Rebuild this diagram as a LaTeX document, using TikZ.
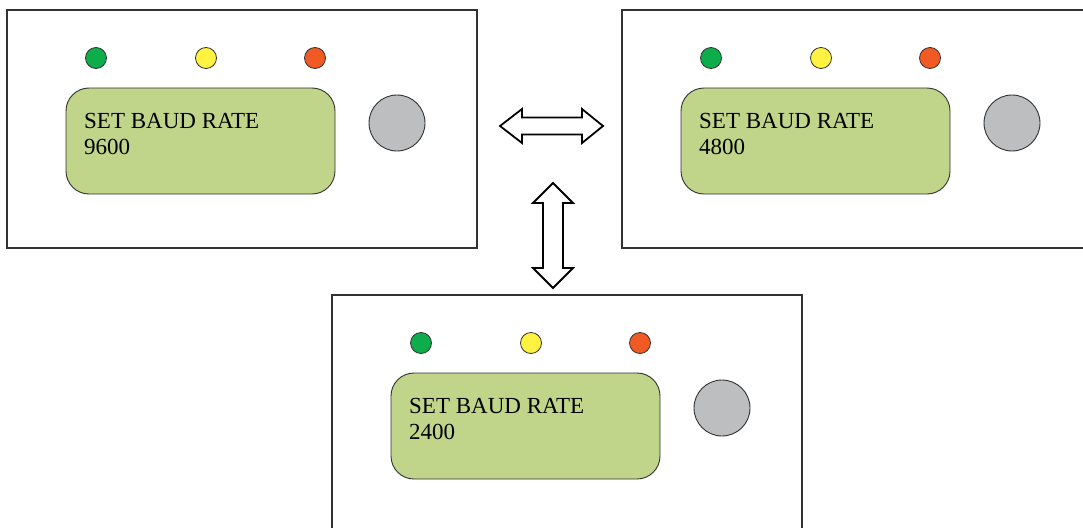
\documentclass[tikz,border=0pt]{standalone}
\usepackage{fontspec}
\setmainfont{Liberation Serif}
\definecolor{ledgreen}{RGB}{13,173,75}
\definecolor{ledyellow}{RGB}{255,242,64}
\definecolor{ledred}{RGB}{241,90,36}
\definecolor{lcdgreen}{RGB}{192,213,137}
\definecolor{knobgray}{RGB}{188,190,192}
\definecolor{edge}{RGB}{50,50,50}
\tikzset{
  frame/.style={draw=edge, line width=1.5pt},
  led/.style={draw=edge, line width=0.8pt},
  lcd/.style={draw=edge, line width=0.9pt, fill=lcdgreen, rounded corners=23pt},
  knob/.style={draw=edge, line width=0.9pt, fill=knobgray},
  lcdtext/.style={anchor=base west, inner sep=0pt, font=\fontsize{23}{26}\selectfont},
  bigarrow/.style={draw=black, line width=1.8pt, fill=white, line join=miter},
  panel/.pic={
    \draw[frame] (0,0) rectangle (470,238);
    \draw[led, fill=ledgreen] (89,48) circle[radius=10.5];
    \draw[led, fill=ledyellow] (199,48) circle[radius=10.5];
    \draw[led, fill=ledred] (308,48) circle[radius=10.5];
    \draw[lcd] (59,78) rectangle (328,184);
    \node[lcdtext] (-l1) at (77,118) {SET BAUD RATE};
    \node[lcdtext] (-l2) at (77,144) {#1};
    \draw[knob] (390,113) circle[radius=28];
  }
}
\begin{document}
\begin{tikzpicture}[x=1pt,y=-1pt]
\clip (0,0) rectangle (1083,527);
\fill[white] (0,0) rectangle (1083,527);
\pic (p1) at (7,10) {panel=9600};
\pic (p2) at (622,10) {panel=4800};
\pic (p3) at (332,295) {panel=2400};
% horizontal double arrow
\coordinate (hl) at (500,126);
\coordinate (hr) at (603,126);
\draw[bigarrow] (hl) -- ++(22,-17) -- ++(0,8.5) -- ++(60,0) -- ++(0,-8.5)
  -- (hr) -- ++(-21,17) -- ++(0,-8.5) -- ++(-60,0) -- ++(0,8.5) -- cycle;
% vertical double arrow
\coordinate (vt) at (553,183);
\coordinate (vb) at (553,288);
\draw[bigarrow] (vt) -- ++(20,20) -- ++(-10,0) -- ++(0,65) -- ++(10,0)
  -- (vb) -- ++(-20,-20) -- ++(10,0) -- ++(0,-65) -- ++(-10,0) -- cycle;
\end{tikzpicture}
\end{document}
